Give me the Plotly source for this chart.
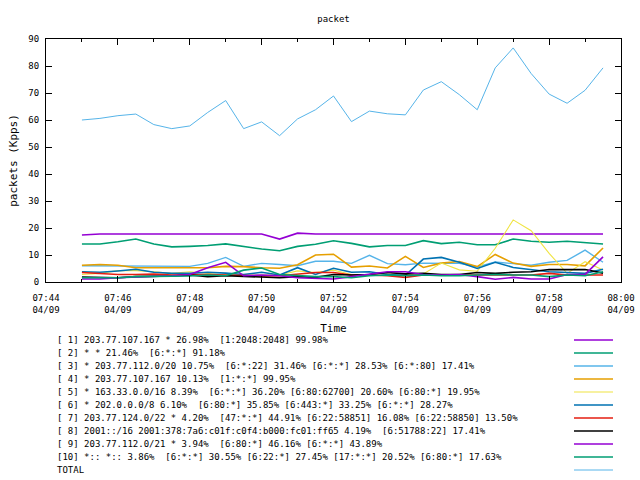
import plotly.graph_objects as go

# sample times (30 s steps) and per-series packet rates in Kpps
times = ["2024-04-09 07:45:00", "2024-04-09 07:45:30", "2024-04-09 07:46:00",
         "2024-04-09 07:46:30", "2024-04-09 07:47:00", "2024-04-09 07:47:30",
         "2024-04-09 07:48:00", "2024-04-09 07:48:30", "2024-04-09 07:49:00",
         "2024-04-09 07:49:30", "2024-04-09 07:50:00", "2024-04-09 07:50:30",
         "2024-04-09 07:51:00", "2024-04-09 07:51:30", "2024-04-09 07:52:00",
         "2024-04-09 07:52:30", "2024-04-09 07:53:00", "2024-04-09 07:53:30",
         "2024-04-09 07:54:00", "2024-04-09 07:54:30", "2024-04-09 07:55:00",
         "2024-04-09 07:55:30", "2024-04-09 07:56:00", "2024-04-09 07:56:30",
         "2024-04-09 07:57:00", "2024-04-09 07:57:30", "2024-04-09 07:58:00",
         "2024-04-09 07:58:30", "2024-04-09 07:59:00", "2024-04-09 07:59:30"]

s1 = [17.4, 17.8, 17.8, 17.8, 17.8, 17.8, 17.8, 17.8, 17.8, 17.8, 17.8, 15.9, 18.1, 17.8, 17.8,
      17.8, 17.8, 17.8, 17.8, 17.8, 17.8, 17.8, 17.8, 17.8, 17.8, 17.8, 17.8, 17.8, 17.8, 17.8]
s2 = [14.1, 14.1, 14.9, 15.9, 14.1, 13.0, 13.2, 13.5, 14.1, 13.1, 12.2, 11.6, 13.2, 14.0, 15.3,
      14.3, 13.0, 13.5, 13.5, 15.3, 14.2, 14.7, 13.8, 13.8, 15.9, 15.1, 14.7, 15.1, 14.7, 14.1]
s3 = [6.0, 6.0, 5.8, 5.8, 5.8, 5.8, 5.8, 6.9, 9.1, 5.8, 6.9, 6.5, 6.0, 7.7, 7.7,
      6.9, 9.9, 6.8, 6.4, 7.0, 7.0, 6.9, 5.6, 7.4, 6.8, 6.2, 7.3, 8.0, 11.8, 7.3]
s4 = [6.2, 6.5, 6.2, 5.3, 5.3, 5.3, 5.3, 5.3, 5.8, 5.7, 5.3, 5.1, 6.4, 10.0, 10.3,
      5.5, 5.9, 5.2, 9.5, 5.4, 7.0, 7.6, 5.7, 10.2, 7.0, 5.8, 6.5, 6.5, 6.0, 12.6]
s5 = [2.8, 3.2, 4.2, 4.2, 3.8, 3.2, 3.8, 3.2, 2.6, 2.6, 2.6, 2.6, 4.1, 3.5, 4.4,
      2.8, 2.8, 3.5, 3.0, 3.0, 7.0, 4.5, 4.0, 12.5, 23.0, 19.0, 10.6, 3.2, 7.5, 4.4]
s6 = [3.8, 3.6, 4.1, 4.7, 3.6, 3.2, 3.2, 3.6, 3.3, 2.8, 3.6, 2.6, 5.3, 2.8, 5.1,
      3.6, 3.8, 2.8, 2.5, 8.5, 9.1, 7.3, 5.0, 7.3, 5.4, 4.7, 3.8, 3.5, 3.2, 4.7]
s7 = [3.5, 3.2, 2.8, 2.8, 2.9, 2.6, 2.8, 2.8, 2.6, 2.3, 2.2, 2.3, 2.8, 3.5, 3.5,
      2.6, 2.6, 2.3, 1.7, 2.6, 2.6, 2.6, 2.6, 2.8, 2.8, 2.6, 3.2, 2.6, 2.6, 2.6]
s8 = [1.85, 1.85, 1.6, 2.0, 2.0, 2.2, 2.6, 2.0, 2.3, 2.0, 1.7, 1.6, 2.0, 1.7, 2.8,
      2.6, 2.8, 3.5, 3.0, 3.2, 2.8, 2.8, 3.5, 3.2, 3.6, 3.8, 4.6, 4.6, 4.6, 3.3]
s9 = [1.1, 1.1, 1.6, 1.85, 1.85, 2.3, 2.8, 5.3, 7.3, 2.3, 2.6, 2.3, 1.6, 1.4, 1.1,
      2.0, 2.8, 3.8, 3.8, 2.8, 2.6, 2.8, 2.0, 1.0, 1.7, 1.1, 1.1, 2.8, 2.8, 9.3]
s10 = [1.6, 1.6, 1.6, 2.0, 2.0, 2.0, 2.2, 2.6, 2.3, 4.4, 5.2, 2.8, 2.3, 2.0, 2.0,
       1.6, 2.3, 2.6, 2.3, 2.6, 2.3, 2.3, 2.6, 2.8, 2.6, 2.6, 2.0, 2.6, 2.3, 3.8]
total = [60.0, 60.6, 61.6, 62.2, 58.3, 56.8, 57.8, 62.8, 67.2, 56.8, 59.3, 54.2, 60.4, 63.8, 68.9,
         59.4, 63.3, 62.3, 61.9, 71.1, 74.2, 69.4, 63.8, 79.3, 86.7, 77.2, 69.6, 66.2, 71.0, 79.3]

labels = [
    "[ 1] 203.77.107.167 * 26.98%  [1:2048:2048] 99.98%",
    "[ 2] * * 21.46%  [6:*:*] 91.18%",
    "[ 3] * 203.77.112.0/20 10.75%  [6:*:22] 31.46% [6:*:*] 28.53% [6:*:80] 17.41%",
    "[ 4] * 203.77.107.167 10.13%  [1:*:*] 99.95%",
    "[ 5] * 163.33.0.0/16 8.39%  [6:*:*] 36.20% [6:80:62700] 20.60% [6:80:*] 19.95%",
    "[ 6] * 202.0.0.0/8 6.10%  [6:80:*] 35.85% [6:443:*] 33.25% [6:*:*] 28.27%",
    "[ 7] 203.77.124.0/22 * 4.20%  [47:*:*] 44.91% [6:22:58851] 16.08% [6:22:58850] 13.50%",
    "[ 8] 2001::/16 2001:378:7a6:c01f:c0f4:b000:fc01:ff65 4.19%  [6:51788:22] 17.41%",
    "[ 9] 203.77.112.0/21 * 3.94%  [6:80:*] 46.16% [6:*:*] 43.89%",
    "[10] *:: *:: 3.86%  [6:*:*] 30.55% [6:22:*] 27.45% [17:*:*] 20.52% [6:80:*] 17.63%",
    "TOTAL",
]
series = [s1, s2, s3, s4, s5, s6, s7, s8, s9, s10, total]
colors = ["#9400d3", "#009e73", "#56b4e9", "#e69f00", "#f0e442", "#0072b2",
          "#e51e10", "#000000", "#9400d3", "#009e73", "#56b4e9"]
widths = [1.6, 1.6, 1.4, 1.6, 1.1, 1.6, 1.6, 1.6, 1.6, 1.6, 1.0]

# plot box in pixels (gnuplot-style layout)
PL, PR, PT, PB = 46, 621, 39, 282


def px(x):
    return (x - PL) / (PR - PL)


def py(y):
    return (PB - y) / (PB - PT)


fig = go.Figure()
for ys, c, w in zip(series, colors, widths):
    fig.add_trace(go.Scatter(x=times, y=ys, mode='lines',
                             line=dict(color=c, width=w), showlegend=False))

# key below the plot: text on the left, line sample on the right
annotations = []
shapes = []
for k, (lab, c, w) in enumerate(zip(labels, colors, widths)):
    yy = py(340 + 13 * k)
    annotations.append(dict(x=px(55), y=yy, xref='paper', yref='paper', text=lab,
                            showarrow=False, xanchor='left', yanchor='middle',
                            font=dict(size=9)))
    shapes.append(dict(type='line', xref='paper', yref='paper', x0=px(574), x1=px(613),
                       y0=yy, y1=yy, line=dict(color=c, width=w)))

axis_common = dict(showline=True, linecolor='black', linewidth=1, mirror='allticks',
                   ticks='inside', ticklen=6, tickcolor='black', showgrid=False,
                   zeroline=False, automargin=False)

fig.update_layout(
    width=640, height=480,
    paper_bgcolor='white', plot_bgcolor='white',
    font=dict(family='DejaVu Sans Mono', size=9, color='black'),
    margin=dict(l=PL, r=640 - PR, t=PT, b=480 - PB),
    title=dict(text='packet', x=0.5, xref='paper', y=1 - 19 / 480, yref='container',
               xanchor='center', yanchor='middle', font=dict(size=9)),
    xaxis=dict(type='date', range=['2024-04-09 07:44', '2024-04-09 08:00'],
               tick0='2024-04-09 07:44', dtick=120000, tickformat='%H:%M<br>%m/%d',
               ticklabelstandoff=7,
               minor=dict(dtick=60000, ticks='inside', ticklen=3, tickcolor='black'),
               title=dict(text='Time', standoff=10), **axis_common),
    yaxis=dict(range=[0, 90], dtick=10, ticklabelstandoff=4,
               title=dict(text='packets (Kpps)', standoff=8), **axis_common),
    annotations=annotations, shapes=shapes,
)

# drop the page's default body margin so the figure sits at the window's corner
fig.write_html("out.html", config={'displayModeBar': False},
               post_script="document.body.style.margin='0';")
